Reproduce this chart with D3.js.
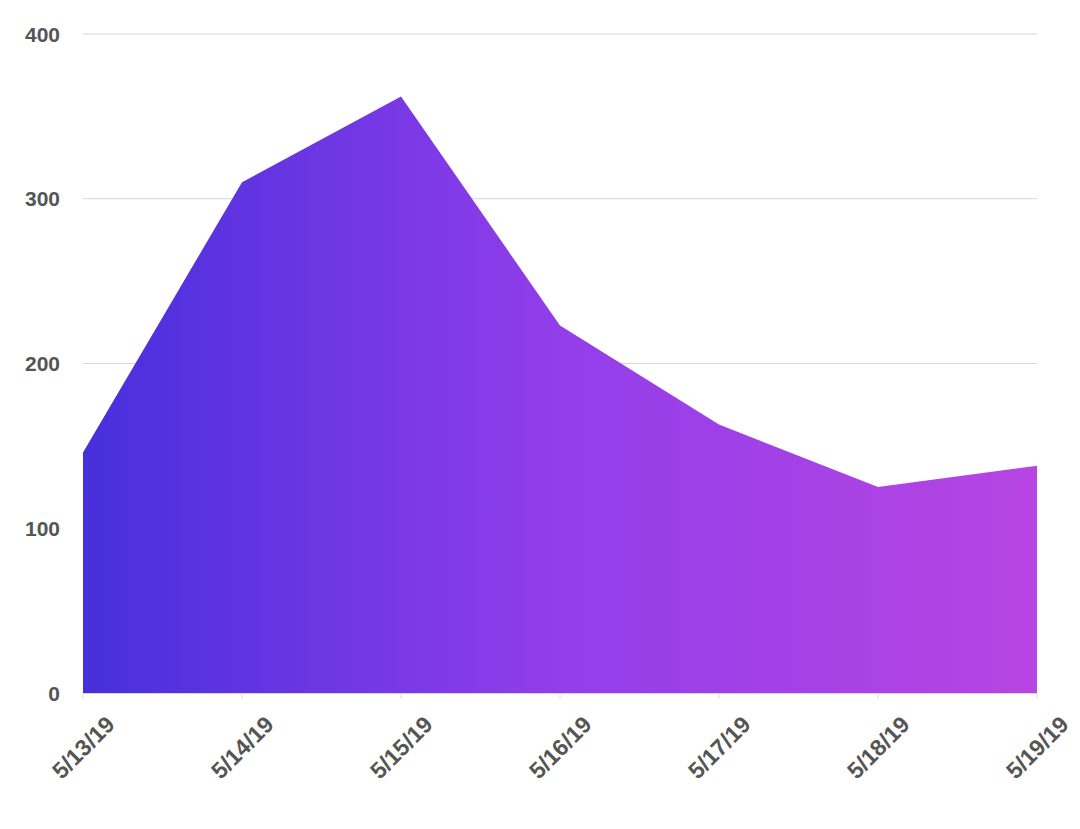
<!DOCTYPE html>
<html>
<head>
<meta charset="utf-8">
<script src="https://cdn.jsdelivr.net/npm/d3@7"></script>
<style>
  body { margin: 0; background: #fff; }
  svg { display: block; }
</style>
</head>
<body>
<div id="chart"></div>
<script>
var dates = ["5/13/19", "5/14/19", "5/15/19", "5/16/19", "5/17/19", "5/18/19", "5/19/19"];
var values = [146, 310, 362, 223, 163, 125, 138];
var yTicks = [0, 100, 200, 300, 400];

var width = 1080, height = 829;
var margin = { top: 34, right: 43, bottom: 136, left: 83 };

var svg = d3.select("#chart").append("svg")
  .attr("width", width)
  .attr("height", height);

var x = d3.scalePoint()
  .domain(dates)
  .range([margin.left, width - margin.right]);

var y = d3.scaleLinear()
  .domain([0, 400])
  .range([height - margin.bottom, margin.top]);

// gradient for the area fill
var grad = svg.append("defs").append("linearGradient")
  .attr("id", "areaGrad")
  .attr("gradientUnits", "userSpaceOnUse")
  .attr("x1", x(dates[0])).attr("x2", x(dates[dates.length - 1]))
  .attr("y1", 0).attr("y2", 0);
grad.append("stop").attr("offset", "0%").attr("stop-color", "#472fdc");
grad.append("stop").attr("offset", "50%").attr("stop-color", "#923eea");
grad.append("stop").attr("offset", "100%").attr("stop-color", "#b745e2");

// gridlines
svg.append("g")
  .selectAll("line")
  .data(yTicks.filter(function(d) { return d > 0; }))
  .enter().append("line")
  .attr("x1", margin.left)
  .attr("x2", width - margin.right)
  .attr("y1", function(d) { return y(d); })
  .attr("y2", function(d) { return y(d); })
  .attr("stroke", "#d6d6de")
  .attr("stroke-width", 1);

// y labels
svg.append("g")
  .selectAll("text")
  .data(yTicks)
  .enter().append("text")
  .attr("x", 60)
  .attr("y", function(d) { return y(d); })
  .attr("dy", "0.36em")
  .attr("text-anchor", "end")
  .attr("font-family", "Liberation Sans, Arial, sans-serif")
  .attr("font-weight", "bold")
  .attr("font-size", 21)
  .attr("fill", "#555")
  .text(function(d) { return d; });

// area
var area = d3.area()
  .x(function(d, i) { return x(dates[i]); })
  .y0(y(0))
  .y1(function(d) { return y(d); });

svg.append("path")
  .datum(values)
  .attr("d", area)
  .attr("fill", "url(#areaGrad)");

// baseline and ticks
svg.append("line")
  .attr("x1", margin.left).attr("x2", width - margin.right)
  .attr("y1", y(0) + 0.5).attr("y2", y(0) + 0.5)
  .attr("stroke", "#d9d4f0");

svg.append("g")
  .selectAll("line")
  .data(dates)
  .enter().append("line")
  .attr("x1", function(d) { return x(d); })
  .attr("x2", function(d) { return x(d); })
  .attr("y1", y(0))
  .attr("y2", y(0) + 6)
  .attr("stroke", "#dcdce4");

// x labels
svg.append("g")
  .selectAll("text")
  .data(dates)
  .enter().append("text")
  .attr("transform", function(d) {
    return "translate(" + (x(d) + 33) + "," + 726 + ") rotate(-45)";
  })
  .attr("text-anchor", "end")
  .attr("font-family", "Liberation Sans, Arial, sans-serif")
  .attr("font-weight", "bold")
  .attr("font-size", 23)
  .attr("fill", "#555")
  .text(function(d) { return d; });
</script>
</body>
</html>
